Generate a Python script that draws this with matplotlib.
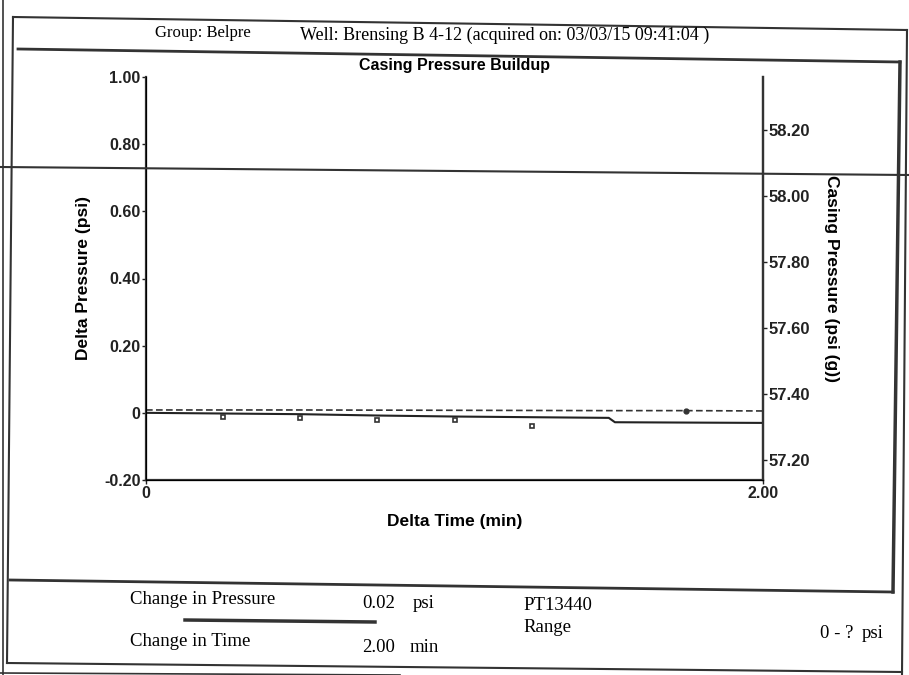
import matplotlib
matplotlib.use("Agg")
from matplotlib import pyplot as plt
from matplotlib.lines import Line2D

# Datos.
time_min = [0, 0.25, 0.5, 0.75, 1.0, 1.25, 1.5, 1.52, 1.75, 2.0]
delta_p = [0.0, -0.002, -0.004, -0.008, -0.011, -0.013, -0.015, -0.028, -0.029, -0.030]
mark_time = [0.25, 0.5, 0.75, 1.0, 1.25]
mark_dp = [-0.012, -0.014, -0.022, -0.022, -0.038]
casing_time = [0, 0.5, 1.0, 1.5, 1.75, 2.0]
casing_p = [57.352, 57.352, 57.351, 57.350, 57.350, 57.349]

left_ticks = [-0.2, 0, 0.2, 0.4, 0.6, 0.8, 1.0]
left_labels = ['-0.20', '0', '0.20', '0.40', '0.60', '0.80', '1.00']
right_ticks = [57.2, 57.4, 57.6, 57.8, 58.0, 58.2]
right_labels = ['57.20', '57.40', '57.60', '57.80', '58.00', '58.20']
x_ticks = [0, 2.0]
x_labels = ['0', '2.00']

W, H = 909, 675
fig = plt.figure(figsize=(W / 100, H / 100), dpi=100)


def fx(x):
    return x / W


def fy(y):
    return 1 - y / H


def px_line(x0, y0, x1, y1, lw=1.5):
    fig.add_artist(Line2D([fx(x0), fx(x1)], [fy(y0), fy(y1)],
                          transform=fig.transFigure, color='#333333', lw=lw))


# Marcos de la hoja escaneada.
px_line(3, 0, 3, 675, 1.2)
px_line(13, 17, 7, 663, 1.5)
px_line(13, 17, 907, 30, 1.5)
px_line(907, 30, 902, 675, 1.5)
px_line(18, 49, 900, 62, 2.0)
px_line(900, 62, 893, 592, 2.5)
px_line(10, 580, 893, 592, 2.0)
px_line(7, 663, 902, 672, 1.5)
px_line(0, 673, 400, 675, 1.2)
px_line(0, 167, 909, 175, 1.5)

sans = 'Liberation Sans'
serif = 'Liberation Serif'

# Ejes.
ax = fig.add_axes([fx(146), fy(480), fx(763) - fx(146), fy(77) - fy(480)])
ax.set_xlim(0, 2.0)
ax.set_ylim(-0.2, 1.0)
ax.plot(time_min, delta_p, c='#222222', lw=1.5)
ax.plot(mark_time, mark_dp, ls='none', marker='s', ms=3.5, mfc='white',
        mec='#333333', mew=1.2)
ax.spines['top'].set_visible(False)
for s in ['left', 'bottom', 'right']:
    ax.spines[s].set_linewidth(1.6)
    ax.spines[s].set_color('#333333')
ax.set_xticks(x_ticks)
ax.set_xticklabels(x_labels, fontfamily=sans, fontweight='bold', fontsize=11.5)
ax.set_yticks(left_ticks)
ax.set_yticklabels(left_labels, fontfamily=sans, fontweight='bold', fontsize=11.5)
ax.tick_params(axis='both', length=3, width=1, pad=1, colors='#222222')
ax.set_xlabel('Delta Time (min)', fontfamily=sans, fontweight='bold',
              fontsize=12.5, labelpad=10)
ax.set_ylabel('Delta Pressure (psi)', fontfamily=sans, fontweight='bold',
              fontsize=12.5, labelpad=9)
ax.set_title('Casing Pressure Buildup', fontfamily=sans, fontweight='bold',
             fontsize=11.5, pad=5)

ax2 = ax.twinx()
ax2.set_ylim(57.14, 58.36)
ax2.plot(casing_time, casing_p, c='#333333', lw=1.2, ls=(0, (4, 2)),
         marker='o', markevery=[4], ms=3.5)
ax2.spines['top'].set_visible(False)
ax2.spines['right'].set_linewidth(1.6)
ax2.spines['right'].set_color('#333333')
ax2.set_yticks(right_ticks)
ax2.set_yticklabels(right_labels, fontfamily=sans, fontweight='bold', fontsize=12)
ax2.tick_params(axis='y', length=3, width=1, pad=1, colors='#222222')
ax2.set_ylabel('Casing Pressure (psi (g))', fontfamily=sans, fontweight='bold',
               fontsize=12.5, rotation=-90, labelpad=21)

# Encabezado.
fig.text(fx(155), fy(33), 'Group: Belpre', fontfamily=serif, fontsize=12,
         va='center', ha='left')
fig.text(fx(300), fy(35), 'Well: Brensing B 4-12 (acquired on: 03/03/15 09:41:04 )',
         fontfamily=serif, fontsize=13, va='center', ha='left')

# Pie.
foot = 13.5
fig.text(fx(130), fy(600), 'Change in Pressure', fontfamily=serif, fontsize=foot, va='center')
fig.text(fx(362), fy(603), '0.02', fontfamily=serif, fontsize=foot, va='center')
fig.text(fx(413), fy(603), 'psi', fontfamily=serif, fontsize=foot, va='center')
fig.text(fx(523), fy(605), 'PT13440', fontfamily=serif, fontsize=foot, va='center')
fig.text(fx(523), fy(627), 'Range', fontfamily=serif, fontsize=foot, va='center')
fig.text(fx(130), fy(642), 'Change in Time', fontfamily=serif, fontsize=foot, va='center')
fig.text(fx(362), fy(647), '2.00', fontfamily=serif, fontsize=foot, va='center')
fig.text(fx(410), fy(647), 'min', fontfamily=serif, fontsize=foot, va='center')
fig.text(fx(820), fy(634), '0 - ?', fontfamily=serif, fontsize=foot, va='center')
fig.text(fx(862), fy(634), 'psi', fontfamily=serif, fontsize=foot, va='center')
px_line(185, 620, 375, 622, 2.5)

fig.savefig('out.png', dpi=100)
